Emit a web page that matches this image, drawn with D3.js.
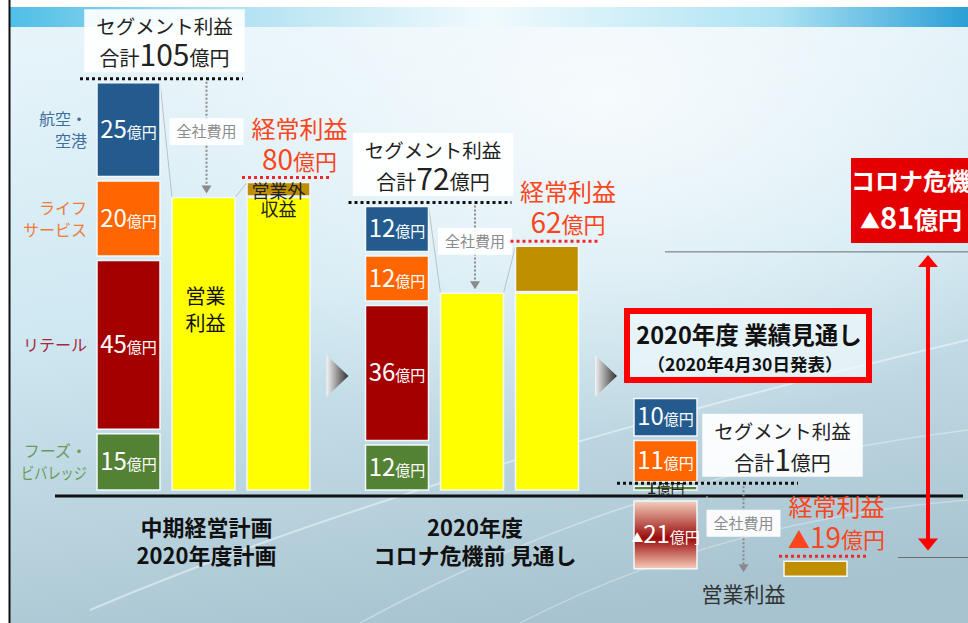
<!DOCTYPE html>
<html lang="ja">
<head>
<meta charset="UTF-8">
<title>セグメント利益と経常利益 2020年度見通し</title>
<script src="https://d3js.org/d3.v7.min.js"></script>
<style>
  body { margin: 0; background: #fff; }
  svg text { font-family: "Noto Sans CJK JP", "Noto Sans", sans-serif; }
  .bold { font-weight: 700; }
</style>
</head>
<body>
<div id="chart"></div>
<script>
// segments, stacked from the bottom up
const segLines = [["フーズ・", "ビバレッジ"], ["リテール"], ["ライフ", "サービス"], ["航空・", "空港"]];
const segColors = ["#548235", "#a50000", "#ff6600", "#245b8e"];
const segLabelColors = ["#6a9a5a", "#a8283a", "#f07a38", "#3e6e9e"];

const groups = ["plan", "preCovid", "forecast"];
const groupTitles = [["中期経営計画", "2020年度計画"], ["2020年度", "コロナ危機前 見通し"], null];
const segValues = [
  [15, 45, 20, 25],
  [12, 36, 12, 12],
  [1, -21, 11, 10]
];
const segTotals = ["105", "72", "1"];
const opProfit = [78, 52.5, -23];     // 営業利益
const nonOpIncome = [4, 12.5, 4];     // 営業外収益
const ordinaryLabels = ["80", "62", "▲19"];
const covidLevels = [63.5, -18];      // grey reference lines for ▲81億円

const W = 968, H = 623;
const svg = d3.select("#chart").append("svg").attr("width", W).attr("height", H);
const defs = svg.append("defs");

// gradients
const bg = defs.append("linearGradient").attr("id", "bg").attr("x1", 0.35).attr("y1", 0).attr("x2", 0.55).attr("y2", 1);
[["0", "#e6f4fa"], ["0.45", "#cfe8f2"], ["1", "#a7c3cf"]].forEach(s => bg.append("stop").attr("offset", s[0]).attr("stop-color", s[1]));
const glow = defs.append("radialGradient").attr("id", "glow").attr("cx", 0.62).attr("cy", 0.15).attr("r", 0.55);
glow.append("stop").attr("offset", 0).attr("stop-color", "#ffffff").attr("stop-opacity", 0.75);
glow.append("stop").attr("offset", 1).attr("stop-color", "#ffffff").attr("stop-opacity", 0);
const strip = defs.append("linearGradient").attr("id", "strip");
[["0", "#4fbfe7"], ["0.2", "#a9def0"], ["0.5", "#f0fafd"], ["0.8", "#aee3f3"], ["1", "#2a9fd6"]].forEach(s => strip.append("stop").attr("offset", s[0]).attr("stop-color", s[1]));
const neg = defs.append("linearGradient").attr("id", "neg").attr("x1", 0).attr("y1", 0).attr("x2", 0).attr("y2", 1);
[["0", "#f4d0bd"], ["0.55", "#9a0a0a"], ["1", "#f6cdb8"]].forEach(s => neg.append("stop").attr("offset", s[0]).attr("stop-color", s[1]));
const tri = defs.append("linearGradient").attr("id", "tri");
tri.append("stop").attr("offset", 0).attr("stop-color", "#f4f4f4");
tri.append("stop").attr("offset", 1).attr("stop-color", "#2e2e2e");

// background
svg.append("rect").attr("width", W).attr("height", H).attr("fill", "#fff");
svg.append("rect").attr("x", 10).attr("y", 7).attr("width", W - 10).attr("height", H - 7).attr("fill", "url(#bg)");
svg.append("rect").attr("x", 10).attr("y", 7).attr("width", W - 10).attr("height", H - 7).attr("fill", "url(#glow)");
svg.append("rect").attr("x", 10).attr("y", 7).attr("width", W - 10).attr("height", 20).attr("fill", "url(#strip)");
const deco = svg.append("g").attr("fill", "none").attr("stroke", "#fff");
deco.append("path").attr("d", "M90 610 Q 420 470 968 340").attr("stroke-opacity", 0.45).attr("stroke-width", 2);
deco.append("path").attr("d", "M360 623 Q 640 470 968 430").attr("stroke-opacity", 0.35).attr("stroke-width", 1.5);
deco.append("path").attr("d", "M520 623 Q 720 520 968 500").attr("stroke-opacity", 0.3).attr("stroke-width", 1.5);
svg.append("line").attr("x1", 9.5).attr("x2", 9.5).attr("y1", 0).attr("y2", H).attr("stroke", "#111").attr("stroke-width", 2);

// scales
const y = d3.scaleLinear().domain([0, 105]).range([490, 490 - 105 * 3.75]);
const gx = d3.scaleBand().domain(groups).range([97, 902.5]);
const bx = d3.scaleBand().domain(["seg", "op", "ord"]).range([0, 213]).paddingInner(0.16);
const bw = bx.bandwidth();
const gap = 4.5;

function stack(vals) {
  let pos = 0, k = 0;
  return vals.map((v, i) => {
    if (v >= 0) {
      const r = { i, v, y0: y(pos + v) - k * gap, y1: y(pos) - k * gap };
      pos += v; k++;
      return r;
    }
    return { i, v, y0: y(0) + 11, y1: y(v) };
  });
}

function rich(sel, parts) {
  parts.forEach(p => sel.append("tspan").attr("font-size", p[1]).text(p[0]));
  return sel;
}

// baseline
svg.append("line").attr("x1", 55).attr("x2", 963).attr("y1", 496).attr("y2", 496)
  .attr("stroke", "#111").attr("stroke-width", 3);

// reference lines and double arrow for ▲81億円
const refTop = y(covidLevels[0]), refBot = y(covidLevels[1]);
svg.append("line").attr("x1", 665).attr("x2", W).attr("y1", refTop).attr("y2", refTop).attr("stroke", "#6e6e6e").attr("stroke-width", 1);
svg.append("line").attr("x1", 898).attr("x2", W).attr("y1", refBot).attr("y2", refBot).attr("stroke", "#6e6e6e").attr("stroke-width", 1);
const ax = 928;
svg.append("line").attr("x1", ax).attr("x2", ax).attr("y1", refTop + 12).attr("y2", refBot - 16)
  .attr("stroke", "#ff0000").attr("stroke-width", 4);
svg.append("path").attr("d", `M${ax},${refTop + 3} L${ax - 10},${refTop + 15} L${ax + 10},${refTop + 15} Z`).attr("fill", "#ff0000");
svg.append("path").attr("d", `M${ax},${refBot - 7} L${ax - 10},${refBot - 19} L${ax + 10},${refBot - 19} Z`).attr("fill", "#ff0000");

// コロナ危機 box
svg.append("rect").attr("x", 851).attr("y", 158).attr("width", 130).attr("height", 85).attr("fill", "#e40000");
svg.append("text").attr("class", "bold").attr("x", 851).attr("y", 190).attr("fill", "#fff").attr("font-size", 24).text("コロナ危機");
rich(svg.append("text").attr("class", "bold").attr("x", 911).attr("y", 229).attr("fill", "#fff").attr("text-anchor", "middle"),
  [["▲", 20], ["81", 29], ["億円", 24]]);

// forecast headline box
svg.append("rect").attr("x", 627).attr("y", 311).attr("width", 242).attr("height", 69)
  .attr("fill", "#eef8fb").attr("fill-opacity", 0.75).attr("stroke", "#ff0000").attr("stroke-width", 6);
svg.append("text").attr("class", "bold").attr("x", 749).attr("y", 344).attr("text-anchor", "middle").attr("font-size", 23.5).attr("fill", "#111").text("2020年度 業績見通し");
svg.append("text").attr("class", "bold").attr("x", 745).attr("y", 371).attr("text-anchor", "middle").attr("font-size", 17.5).attr("fill", "#111").text("（2020年4月30日発表）");

// arrows between groups
groups.slice(1).forEach(g => {
  const x0 = gx(g) - 39;
  svg.append("path").attr("d", `M${x0},355 L${x0 + 22},376 L${x0},397 Z`).attr("fill", "url(#tri)");
});

// draw each group
groups.forEach((g, gi) => {
  const G = svg.append("g").attr("transform", `translate(${gx(g)},0)`);
  const sx = bx("seg"), ox = bx("op"), rx = bx("ord");
  const rects = stack(segValues[gi]);
  const posRects = rects.filter(r => r.v >= 0);
  const stackTop = d3.min(posRects, r => r.y0);
  const allPos = rects.length === posRects.length;
  const total = d3.sum(segValues[gi]);
  const dotY = allPos ? stackTop - 4 : y(total) - 3;
  const op = opProfit[gi], ord = op + nonOpIncome[gi];

  // connectors
  const con = G.append("g").attr("fill", "none").attr("stroke", "#b9c2c9").attr("stroke-width", 1);
  if (op > 0) {
    con.append("line").attr("x1", sx + bw).attr("y1", stackTop).attr("x2", ox).attr("y2", y(op));
    con.append("line").attr("x1", ox + bw).attr("y1", y(op)).attr("x2", rx).attr("y2", y(ord));
  } else {
    con.append("path").attr("d", `M${sx + bw + 10},${y(0) + 6} V${y(op) + 3} H${ox + bw + 5} L${rx},${y(ord)}`);
  }

  // segment stack
  rects.forEach(r => {
    G.append("rect").attr("x", sx).attr("y", r.y0).attr("width", bw).attr("height", r.y1 - r.y0)
      .attr("fill", r.v < 0 ? "url(#neg)" : segColors[r.i]).attr("stroke", "#f2f8fb").attr("stroke-width", 1.5);
    const cx = sx + bw / 2;
    if (r.v < 0) {
      rich(G.append("text").attr("x", cx).attr("y", (r.y0 + r.y1) / 2 + 8).attr("text-anchor", "middle").attr("fill", "#fff"),
        [["▲", 12], [String(-r.v), 24], ["億円", 15]]);
    } else if (r.y1 - r.y0 < 12) {
      rich(G.append("text").attr("x", cx).attr("y", r.y1 + 4).attr("text-anchor", "middle").attr("fill", "#222"),
        [[String(r.v), 18], ["億円", 14]]);
    } else {
      rich(G.append("text").attr("x", cx).attr("y", (r.y0 + r.y1) / 2 + 8).attr("text-anchor", "middle").attr("fill", "#fff"),
        [[String(r.v), 24], ["億円", 15]]);
    }
    // category names on the first group
    if (gi === 0) {
      const lines = segLines[r.i];
      const c = (r.y0 + r.y1) / 2 + 6;
      lines.forEach((t, k) => {
        const lt = G.append("text").attr("x", sx - 10).attr("y", c + (k - (lines.length - 1) / 2) * 22)
          .attr("text-anchor", "end").attr("font-size", 16).attr("fill", segLabelColors[r.i]).text(t);
        if (lt.node().getComputedTextLength() > 66) lt.attr("textLength", 66).attr("lengthAdjust", "spacingAndGlyphs");
      });
    }
  });

  // operating profit and ordinary profit bars
  if (op > 0) {
    G.append("rect").attr("x", ox).attr("y", y(op)).attr("width", bw).attr("height", y(0) - y(op))
      .attr("fill", "#ffff00").attr("stroke", "#f2f8fb").attr("stroke-width", 1.5);
    G.append("rect").attr("x", rx).attr("y", y(op)).attr("width", bw).attr("height", y(0) - y(op))
      .attr("fill", "#ffff00").attr("stroke", "#f2f8fb").attr("stroke-width", 1.5);
  }
  G.append("rect").attr("x", rx).attr("y", y(ord)).attr("width", bw).attr("height", y(d3.min([op, ord])) - y(d3.max([op, ord])) - (op > 0 ? 1.5 : 0))
    .attr("fill", "#bf8f00").attr("stroke", "#f2f8fb").attr("stroke-width", 1.5);

  if (gi === 0) {
    ["営業", "利益"].forEach((t, k) => G.append("text").attr("x", ox + bw / 2 + 2).attr("y", 304 + k * 27)
      .attr("text-anchor", "middle").attr("font-size", 20).attr("fill", "#111").text(t));
    ["営業外", "収益"].forEach((t, k) => G.append("text").attr("x", rx + bw / 2).attr("y", y(ord) + 15 + k * 18)
      .attr("text-anchor", "middle").attr("font-size", 18).attr("fill", "#222").text(t));
  }
  if (op < 0) {
    G.append("text").attr("x", ox + bw / 2 + 3).attr("y", 602).attr("text-anchor", "middle")
      .attr("font-size", 21).attr("fill", "#333").text("営業利益");
  }

  // segment total dotted line and box
  const dotX1 = op > 0 ? ox + bw + 8 : ox + bw + 26;
  G.append("line").attr("x1", sx - 17).attr("x2", dotX1).attr("y1", dotY).attr("y2", dotY)
    .attr("stroke", "#111").attr("stroke-width", 3).attr("stroke-dasharray", "3,3");
  const boxTop = dotY - 69.5;
  const boxCx = allPos ? sx + bw / 2 + 36 : ox + bw / 2 + 42;
  const tb = G.append("g");
  const boxRect = tb.append("rect").attr("fill", "#fff").attr("fill-opacity", 0.92);
  const t1 = tb.append("text").attr("x", boxCx).attr("y", boxTop + 25).attr("text-anchor", "middle")
    .attr("font-size", 19.5).attr("fill", "#222").text("セグメント利益");
  const t2 = rich(tb.append("text").attr("x", boxCx).attr("y", boxTop + 57).attr("text-anchor", "middle").attr("fill", "#222"),
    [["合計", 20], [segTotals[gi], 30], ["億円", 20]]);
  const tw = Math.max(t1.node().getComputedTextLength(), t2.node().getComputedTextLength()) + 24;
  boxRect.attr("x", boxCx - tw / 2).attr("y", boxTop).attr("width", tw).attr("height", 63);

  // 全社費用 arrow
  const arX = ox + bw / 2 + 3, arY1 = dotY + 3, arY2 = y(op) - 4;
  G.append("line").attr("x1", arX).attr("x2", arX).attr("y1", arY1).attr("y2", arY2 - 7)
    .attr("stroke", "#8a8a8a").attr("stroke-width", 2).attr("stroke-dasharray", "2,2");
  G.append("path").attr("d", `M${arX},${arY2} L${arX - 5},${arY2 - 8} L${arX + 5},${arY2 - 8} Z`).attr("fill", "#8a8a8a");
  const mid = (arY1 + arY2) / 2 - 6;
  G.append("rect").attr("x", arX - 37).attr("y", mid - 13.5).attr("width", 74).attr("height", 27)
    .attr("fill", "#fff").attr("fill-opacity", 0.92);
  G.append("text").attr("x", arX).attr("y", mid + 5.5).attr("text-anchor", "middle").attr("font-size", 15)
    .attr("fill", "#8c8c8c").text("全社費用");

  // ordinary profit
  const redY = y(ord) - 5;
  G.append("line").attr("x1", rx - 5).attr("x2", rx + bw + 20).attr("y1", redY).attr("y2", redY)
    .attr("stroke", "#f0282a").attr("stroke-width", 3).attr("stroke-dasharray", "3,3");
  const lx = rx + bw / 2 + 21;
  G.append("text").attr("x", lx).attr("y", redY - 40).attr("text-anchor", "middle").attr("font-size", 24)
    .attr("fill", "#f9461c").text("経常利益");
  const ol = ordinaryLabels[gi];
  const parts = ol.startsWith("▲") ? [["▲", 22], [ol.slice(1), 28], ["億円", 22]] : [[ol, 28], ["億円", 22]];
  rich(G.append("text").attr("x", lx).attr("y", redY - 8).attr("text-anchor", "middle").attr("fill", "#f9461c"), parts);

  // group titles under the baseline
  if (groupTitles[gi]) {
    groupTitles[gi].forEach((t, k) => G.append("text").attr("class", "bold").attr("x", ox + bw / 2 + 3)
      .attr("y", 536 + k * 28).attr("text-anchor", "middle").attr("font-size", 22).attr("fill", "#111").text(t));
  }
});
</script>
</body>
</html>
